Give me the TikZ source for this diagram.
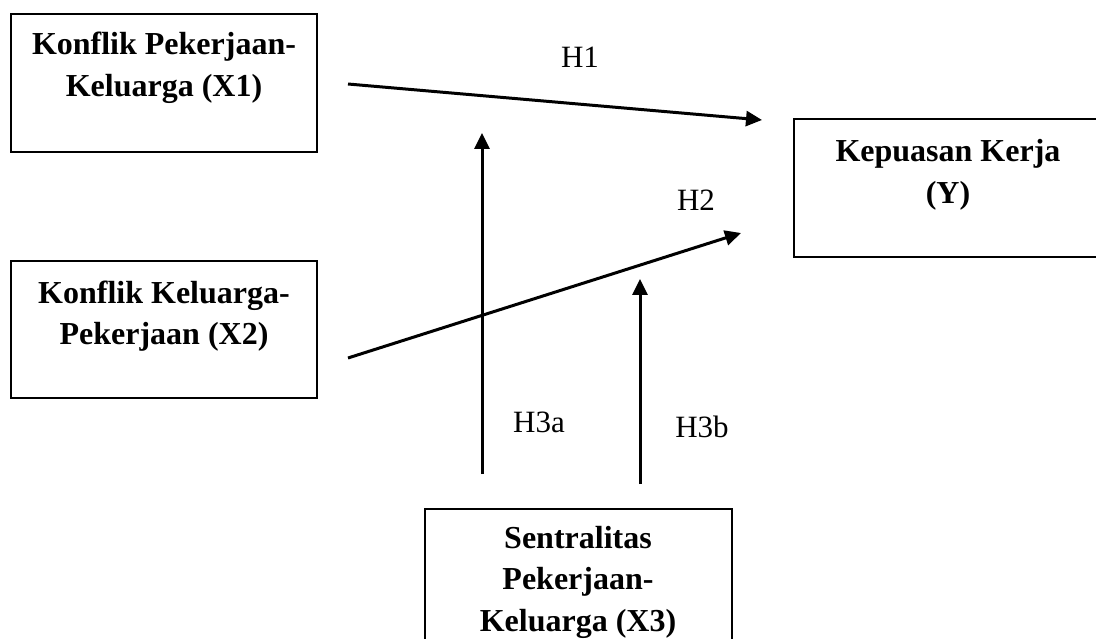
\documentclass[tikz,border=0pt]{standalone}
\usepackage{fontspec}
\setmainfont{Liberation Serif}
\usetikzlibrary{arrows.meta}
\begin{document}
\begin{tikzpicture}[x=1pt,y=-1pt,
  boxnode/.style={draw=black,line width=2pt,rectangle,inner sep=0pt},
  txt/.style={align=center,font=\fontsize{32}{41.5}\selectfont\bfseries,inner sep=0pt},
  hlab/.style={font=\fontsize{31}{34}\selectfont,inner sep=0pt},
  arr/.style={line width=3pt,-{Triangle[length=16pt,width=15pt]}}]
\useasboundingbox (0,0) rectangle (1096,639);
\clip (0,0) rectangle (1096,639);
% boxes
\node[boxnode,minimum width=306pt,minimum height=138pt] (x1) at (164,83) {};
\node[boxnode,minimum width=306pt,minimum height=137pt] (x2) at (164,329.5) {};
\node[boxnode,minimum width=308pt,minimum height=138pt] (y) at (948,188) {};
\node[boxnode,minimum width=307pt,minimum height=160pt] (x3) at (578.5,589) {};
% texts
\node[txt] (t1) at (164,68) {Konflik Pekerjaan-\\Keluarga (X1)};
\node[txt] (t2) at (164,316) {Konflik Keluarga-\\Pekerjaan (X2)};
\node[txt] (ty) at (948,175) {Kepuasan Kerja\\(Y)};
\node[txt] (t3) at (578,582) {Sentralitas\\Pekerjaan-\\Keluarga (X3)};
% arrow end points
\coordinate (h1s) at (348,84);
\coordinate (h1e) at (762,120);
\coordinate (h2s) at (348,358);
\coordinate (h2e) at (741,233);
\coordinate (h3as) at (482,474);
\coordinate (h3ae) at (482,133);
\coordinate (h3bs) at (640,484);
\coordinate (h3be) at (640,279);
\draw[arr] (h1s) -- (h1e);
\draw[arr] (h2s) -- (h2e);
\draw[arr] (h3as) -- (h3ae);
\draw[arr] (h3bs) -- (h3be);
% labels
\node[hlab] (l1) at (580,57) {H1};
\node[hlab] (l2) at (696,200) {H2};
\node[hlab] (l3a) at (539,422) {H3a};
\node[hlab] (l3b) at (702,427) {H3b};
\end{tikzpicture}
\end{document}
